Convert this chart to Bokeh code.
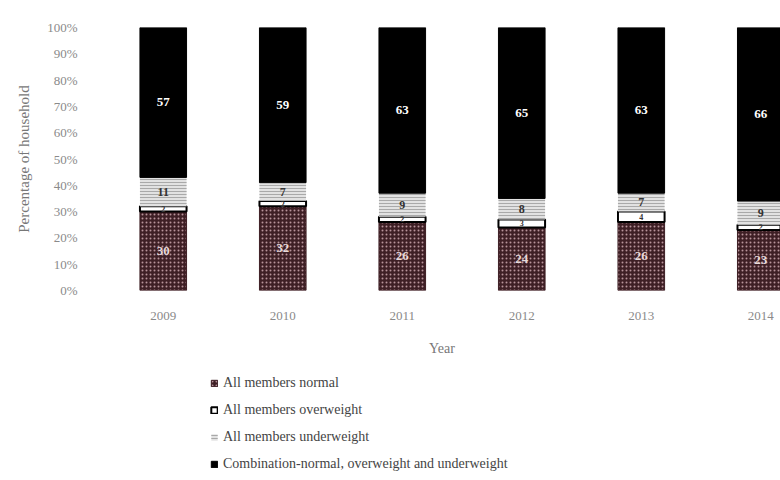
from bokeh.plotting import figure
from bokeh.layouts import column
from bokeh.models import ColumnDataSource, Range1d, FixedTicker, Legend, LegendItem
from bokeh.core.properties import value
from bokeh.embed import file_html
from bokeh.resources import INLINE

years = ["2009", "2010", "2011", "2012", "2013", "2014"]
normal = [30, 32, 26, 24, 26, 23]
overweight = [2, 2, 2, 3, 4, 2]
underweight = [11, 7, 9, 8, 7, 9]
combination = [57, 59, 63, 65, 63, 66]
series_names = ["All members normal", "All members overweight",
                "All members underweight",
                "Combination-normal, overweight and underweight"]
y_ticks = [0, 10, 20, 30, 40, 50, 60, 70, 80, 90, 100]

x = list(range(len(years)))
b1 = [0] * len(x)
t1 = [b + v for b, v in zip(b1, normal)]
t2 = [b + v for b, v in zip(t1, overweight)]
t3 = [b + v for b, v in zip(t2, underweight)]
t4 = [b + v for b, v in zip(t3, combination)]

src = ColumnDataSource(dict(
    x=x, b1=b1, t1=t1, t2=t2, t3=t3, t4=t4,
    m1=[(a + b) / 2 for a, b in zip(b1, t1)],
    m2=[(a + b) / 2 for a, b in zip(t1, t2)],
    m3=[(a + b) / 2 for a, b in zip(t2, t3)],
    m4=[(a + b) / 2 for a, b in zip(t3, t4)],
    l1=[str(v) for v in normal],
    l2=[str(v) for v in overweight],
    l3=[str(v) for v in underweight],
    l4=[str(v) for v in combination],
))

SERIF = "Liberation Serif"

STYLES = [
    dict(fill_color="#3e1f25", line_color="#3e1f25", line_width=1,
         hatch_pattern="dot", hatch_color="#b7939a", hatch_scale=4, hatch_weight=1.5),
    dict(fill_color="white", line_color="black", line_width=2),
    dict(fill_color="#e2e2e2", line_color=None, hatch_pattern="horizontal_line",
         hatch_color="#a9a9a9", hatch_scale=3, hatch_weight=1),
    dict(fill_color="black", line_color="black"),
]

p = figure(width=780, height=360, output_backend="svg", toolbar_location=None,
           x_range=Range1d(-0.5, 5.165), y_range=Range1d(0, 100),
           min_border_left=103, min_border_right=0, min_border_top=27,
           min_border_bottom=70, outline_line_color=None)

W = 0.39
p.vbar(x="x", bottom="b1", top="t1", width=W, source=src, **STYLES[0])
p.vbar(x="x", bottom="t1", top="t2", width=W, source=src, **STYLES[1])
p.vbar(x="x", bottom="t2", top="t3", width=W, source=src, **STYLES[2])
p.vbar(x="x", bottom="t3", top="t4", width=W, source=src, **STYLES[3])

lab = dict(text_font=value(SERIF), text_font_style="bold", text_align="center",
           text_baseline="middle", source=src)
p.text(x="x", y="m1", text="l1", text_color="#e8dada", text_font_size="13px", **lab)
p.text(x="x", y="m2", text="l2", text_color="#333333", text_font_size="8px", **lab)
p.text(x="x", y="m3", text="l3", text_color="#333333", text_font_size="12px", **lab)
p.text(x="x", y="m4", text="l4", text_color="white", text_font_size="13px", **lab)

p.xgrid.visible = False
p.ygrid.visible = False

xa = p.xaxis[0]
xa.ticker = FixedTicker(ticks=x)
xa.major_label_overrides = {i: y for i, y in enumerate(years)}
xa.axis_line_color = None
xa.major_tick_line_color = None
xa.minor_tick_line_color = None
xa.major_label_text_font = SERIF
xa.major_label_text_font_size = "13px"
xa.major_label_text_color = "#8a8a8a"
xa.major_label_standoff = 15
xa.axis_label = "Year"
xa.axis_label_text_font = SERIF
xa.axis_label_text_font_style = "normal"
xa.axis_label_text_font_size = "14px"
xa.axis_label_text_color = "#777777"
xa.axis_label_standoff = 18

ya = p.yaxis[0]
ya.ticker = FixedTicker(ticks=y_ticks)
ya.major_label_overrides = {t: f"{t}%" for t in y_ticks}
ya.axis_line_color = None
ya.major_tick_line_color = None
ya.minor_tick_line_color = None
ya.major_label_text_font = SERIF
ya.major_label_text_font_size = "13px"
ya.major_label_text_color = "#8a8a8a"
ya.major_label_standoff = 20
ya.axis_label = "Percentage of household"
ya.axis_label_text_font = SERIF
ya.axis_label_text_font_style = "normal"
ya.axis_label_text_font_size = "15px"
ya.axis_label_text_color = "#777777"
ya.axis_label_standoff = 12

# legend panel
nan = float("nan")
lg = figure(width=780, height=120, output_backend="svg", toolbar_location=None,
            x_range=Range1d(0, 1), y_range=Range1d(0, 1),
            min_border_left=0, min_border_right=0, min_border_top=0,
            min_border_bottom=0, outline_line_color=None)
lg.axis.visible = False
lg.grid.visible = False
items = []
for name, st in zip(series_names, STYLES):
    r = lg.vbar(x=[nan], bottom=[nan], top=[nan], width=0.1, **st)
    items.append(LegendItem(label=name, renderers=[r]))
legend = Legend(items=items, location=(107, 6), orientation="vertical",
                background_fill_alpha=0, border_line_color=None,
                glyph_width=8, glyph_height=8, label_height=20, spacing=7,
                label_standoff=5, padding=0, margin=0,
                label_text_font=SERIF, label_text_font_size="14px",
                label_text_color="#444444")
lg.add_layout(legend, "center")

layout = column(p, lg, spacing=0)
open("out.html", "w").write(file_html(layout, INLINE))
